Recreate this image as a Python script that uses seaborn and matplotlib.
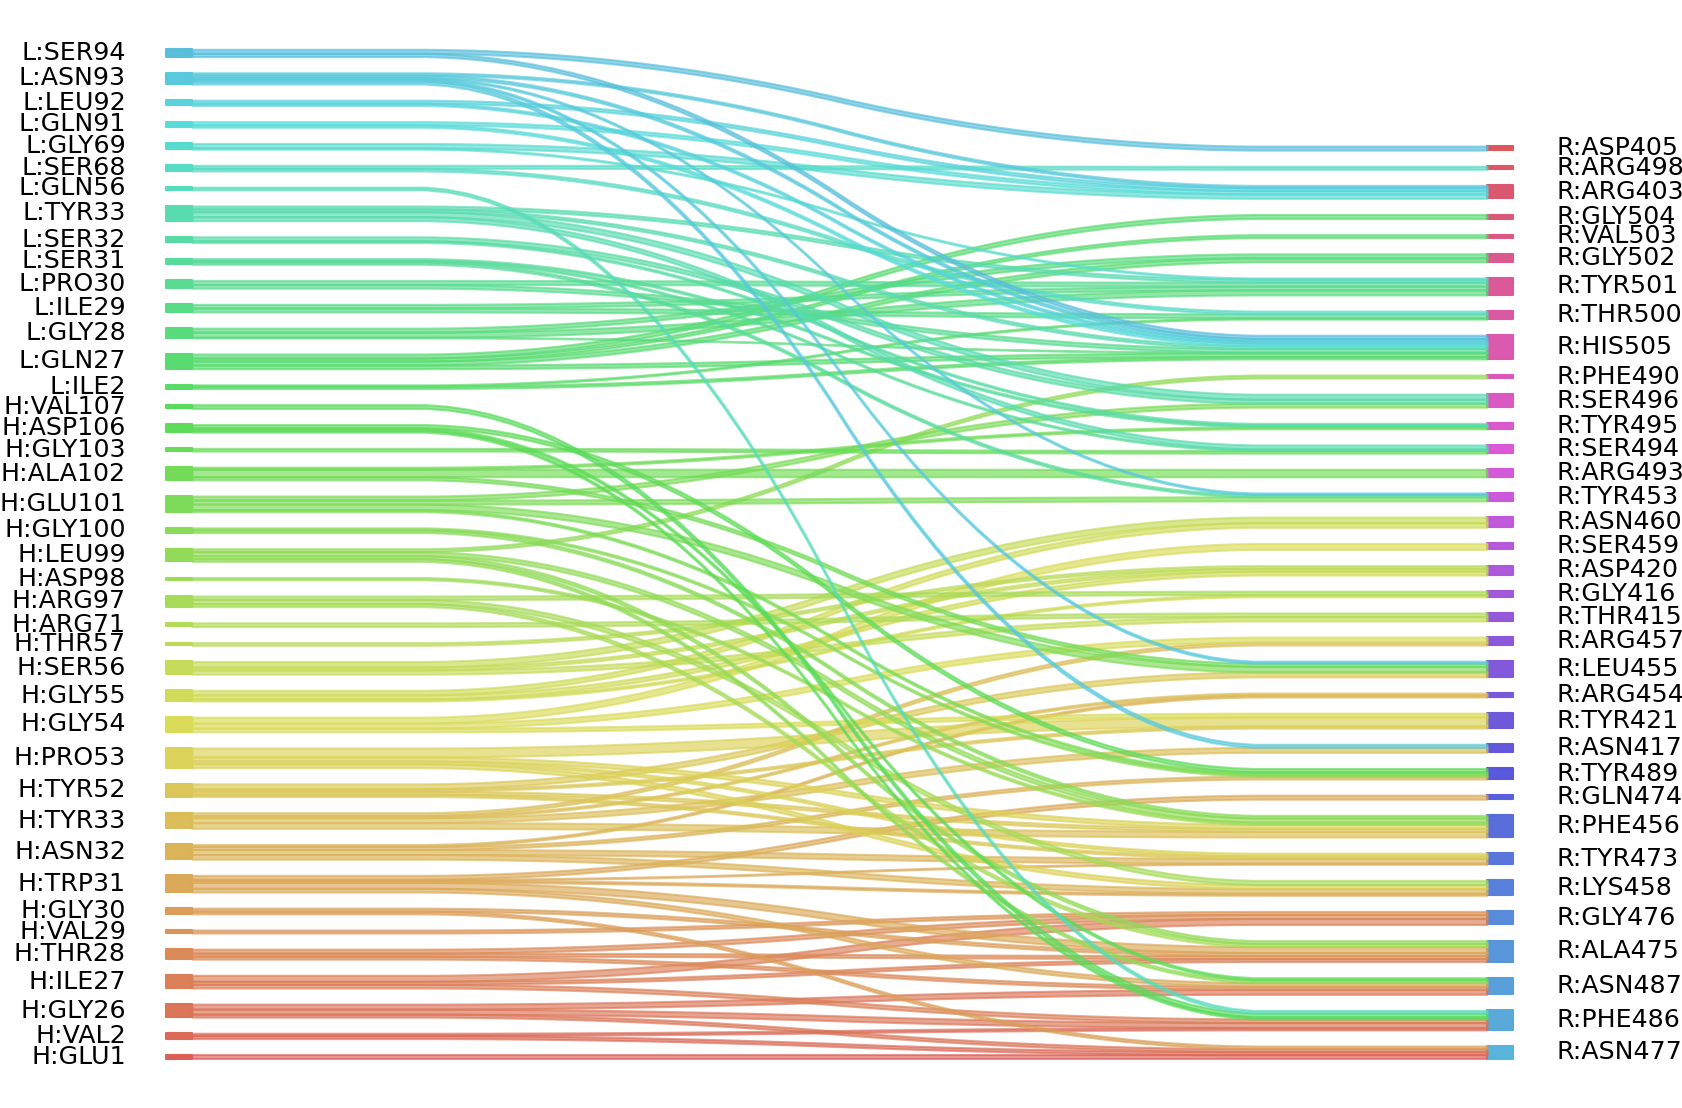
import numpy as np
import pandas as pd
import matplotlib
matplotlib.use("Agg")
import matplotlib.pyplot as plt
import seaborn as sns

# node order, bottom to top (as stacked by the sankey)
left_order = ["H:GLU1", "H:VAL2", "H:GLY26", "H:ILE27", "H:THR28", "H:VAL29", "H:GLY30",
              "H:TRP31", "H:ASN32", "H:TYR33", "H:TYR52", "H:PRO53", "H:GLY54", "H:GLY55",
              "H:SER56", "H:THR57", "H:ARG71", "H:ARG97", "H:ASP98", "H:LEU99", "H:GLY100",
              "H:GLU101", "H:ALA102", "H:GLY103", "H:ASP106", "H:VAL107", "L:ILE2", "L:GLN27",
              "L:GLY28", "L:ILE29", "L:PRO30", "L:SER31", "L:SER32", "L:TYR33", "L:GLN56",
              "L:SER68", "L:GLY69", "L:GLN91", "L:LEU92", "L:ASN93", "L:SER94"]
right_order = ["R:ASN477", "R:PHE486", "R:ASN487", "R:ALA475", "R:GLY476", "R:LYS458",
               "R:TYR473", "R:PHE456", "R:GLN474", "R:TYR489", "R:ASN417", "R:TYR421",
               "R:ARG454", "R:LEU455", "R:ARG457", "R:THR415", "R:GLY416", "R:ASP420",
               "R:SER459", "R:ASN460", "R:TYR453", "R:ARG493", "R:SER494", "R:TYR495",
               "R:SER496", "R:PHE490", "R:HIS505", "R:THR500", "R:TYR501", "R:GLY502",
               "R:VAL503", "R:GLY504", "R:ARG403", "R:ARG498", "R:ASP405"]

# contacts: antibody residue -> RBD residue, with weight
src = ["L:SER94", "L:SER94",
       "L:ASN93", "L:ASN93", "L:ASN93", "L:ASN93", "L:ASN93",
       "L:LEU92", "L:LEU92",
       "L:GLN91", "L:GLN91",
       "L:GLY69", "L:GLY69",
       "L:SER68", "L:SER68",
       "L:GLN56",
       "L:TYR33", "L:TYR33", "L:TYR33", "L:TYR33",
       "L:SER32", "L:SER32",
       "L:SER31", "L:SER31", "L:SER31",
       "L:PRO30", "L:PRO30",
       "L:ILE29", "L:ILE29",
       "L:GLY28", "L:GLY28", "L:GLY28",
       "L:GLN27", "L:GLN27", "L:GLN27", "L:GLN27",
       "L:ILE2", "L:ILE2",
       "H:VAL107",
       "H:ASP106", "H:ASP106", "H:ASP106",
       "H:GLY103",
       "H:ALA102", "H:ALA102", "H:ALA102",
       "H:GLU101", "H:GLU101", "H:GLU101", "H:GLU101",
       "H:GLY100", "H:GLY100",
       "H:LEU99", "H:LEU99", "H:LEU99", "H:LEU99",
       "H:ASP98",
       "H:ARG97", "H:ARG97", "H:ARG97",
       "H:ARG71",
       "H:THR57",
       "H:SER56", "H:SER56", "H:SER56",
       "H:GLY55", "H:GLY55", "H:GLY55",
       "H:GLY54", "H:GLY54", "H:GLY54",
       "H:PRO53", "H:PRO53", "H:PRO53", "H:PRO53",
       "H:TYR52", "H:TYR52", "H:TYR52", "H:TYR52",
       "H:TYR33", "H:TYR33", "H:TYR33", "H:TYR33",
       "H:ASN32", "H:ASN32", "H:ASN32", "H:ASN32",
       "H:TRP31", "H:TRP31", "H:TRP31", "H:TRP31", "H:TRP31",
       "H:GLY30", "H:GLY30",
       "H:VAL29",
       "H:THR28", "H:THR28", "H:THR28",
       "H:ILE27", "H:ILE27", "H:ILE27",
       "H:GLY26", "H:GLY26", "H:GLY26",
       "H:VAL2", "H:VAL2",
       "H:GLU1"]
dst = ["R:ASP405", "R:HIS505",
       "R:ARG403", "R:HIS505", "R:TYR453", "R:LEU455", "R:ASN417",
       "R:ARG403", "R:HIS505",
       "R:ARG403", "R:HIS505",
       "R:ARG403", "R:TYR501",
       "R:ARG498", "R:THR500",
       "R:PHE486",
       "R:TYR501", "R:HIS505", "R:SER496", "R:SER494",
       "R:SER496", "R:TYR495",
       "R:TYR495", "R:SER494", "R:TYR453",
       "R:TYR501", "R:HIS505",
       "R:TYR501", "R:THR500",
       "R:GLY502", "R:TYR501", "R:HIS505",
       "R:GLY504", "R:VAL503", "R:GLY502", "R:HIS505",
       "R:THR500", "R:HIS505",
       "R:PHE486",
       "R:TYR489", "R:ASN487", "R:PHE486",
       "R:SER494",
       "R:ARG493", "R:TYR495", "R:LEU455",
       "R:SER496", "R:TYR453", "R:LEU455", "R:TYR489",
       "R:TYR489", "R:PHE456",
       "R:PHE490", "R:PHE456", "R:ASN487", "R:ALA475",
       "R:PHE456",
       "R:GLY416", "R:LYS458", "R:ALA475",
       "R:THR415",
       "R:ASP420",
       "R:ASN460", "R:ASP420", "R:THR415",
       "R:ASN460", "R:ASP420", "R:GLY416",
       "R:SER459", "R:ARG457", "R:TYR421",
       "R:TYR421", "R:PHE456", "R:LYS458", "R:TYR473",
       "R:TYR421", "R:LEU455", "R:PHE456", "R:TYR473",
       "R:ARG457", "R:ARG454", "R:ASN417", "R:PHE456",
       "R:ARG454", "R:TYR489", "R:TYR473", "R:LYS458",
       "R:GLN474", "R:TYR473", "R:LYS458", "R:ALA475", "R:ASN487",
       "R:ALA475", "R:ASN477",
       "R:GLY476",
       "R:GLY476", "R:ALA475", "R:ASN487",
       "R:GLY476", "R:ALA475", "R:PHE486",
       "R:ASN487", "R:PHE486", "R:ASN477",
       "R:PHE486", "R:ASN477",
       "R:ASN477"]
weight = [4.0, 3.3,
          2.3, 2.5, 1.5, 2.0, 3.0,
          3.0, 2.3,
          3.2, 2.5,
          4.5, 1.2,
          3.0, 2.7,
          2.7,
          3.0, 2.7, 5.0, 4.0,
          4.0, 1.7,
          1.8, 1.5, 2.4,
          4.0, 3.7,
          3.7, 4.0,
          4.0, 5.1, 0.6,
          4.0, 3.0, 4.0, 3.7,
          1.3, 2.4,
          3.7,
          3.5, 2.2, 2.0,
          2.7,
          7.5, 2.0, 3.2,
          4.0, 4.1, 5.5, 2.1,
          2.0, 2.7,
          3.0, 4.0, 2.7, 3.0,
          2.3,
          3.5, 4.2, 3.0,
          3.7,
          2.7,
          5.6, 2.8, 4.3,
          4.6, 4.0, 2.1,
          6.0, 5.0, 3.7,
          9.0, 4.0, 4.0, 2.7,
          2.3, 5.0, 3.0, 2.4,
          3.0, 2.0, 5.0, 5.7,
          2.0, 3.0, 5.0, 4.7,
          4.0, 1.0, 2.0, 6.0, 3.7,
          3.0, 2.7,
          3.0,
          4.0, 3.0, 3.0,
          6.0, 3.0, 3.7,
          5.0, 5.0, 3.0,
          2.3, 3.0,
          4.3]

df = pd.DataFrame({"left": src, "right": dst, "weight": weight})

# colours: hls palette over every label, left ones first
all_labels = left_order + right_order
palette = sns.color_palette("hls", len(all_labels))
colors = dict(zip(all_labels, palette))

total = df["weight"].sum()
gap = 0.0443 * total


def stack(order, col):
    pos = {}
    y = 0.0
    for lab in order:
        h = df.loc[df[col] == lab, "weight"].sum()
        pos[lab] = [y, h]
        y = y + h + gap
    return pos


lpos = stack(left_order, "left")
rpos = stack(right_order, "right")
left_top = lpos[left_order[-1]][0] + lpos[left_order[-1]][1]
right_top = rpos[right_order[-1]][0] + rpos[right_order[-1]][1]
xmax = right_top / 4

fig = plt.figure(figsize=(1682 / 150, 1108 / 150), dpi=150)
ax = fig.add_axes([0, 0, 1, 1])

for lab in left_order:
    b, h = lpos[lab]
    ax.fill_between([-0.02 * xmax, 0], [b, b], [b + h, b + h], color=colors[lab], alpha=0.99)
    ax.text(-0.051 * xmax, b + h / 2, lab, ha="right", va="center", fontsize=12.1)
for lab in right_order:
    b, h = rpos[lab]
    ax.fill_between([xmax, 1.02 * xmax], [b, b], [b + h, b + h], color=colors[lab], alpha=0.99)
    ax.text(1.054 * xmax, b + h / 2, lab, ha="left", va="center", fontsize=12.1)

# strips, smoothed step from the left slot to the right slot
lb = {k: v[0] for k, v in lpos.items()}
rb = {k: v[0] for k, v in rpos.items()}
kern = 0.05 * np.ones(20)
for l in left_order:
    for r in right_order:
        sel = df[(df["left"] == l) & (df["right"] == r)]
        if len(sel) == 0:
            continue
        wt = sel["weight"].sum()
        ys_d = np.array(50 * [lb[l]] + 50 * [rb[r]])
        ys_d = np.convolve(np.convolve(ys_d, kern, mode="valid"), kern, mode="valid")
        ys_u = np.array(50 * [lb[l] + wt] + 50 * [rb[r] + wt])
        ys_u = np.convolve(np.convolve(ys_u, kern, mode="valid"), kern, mode="valid")
        lb[l] += wt
        rb[r] += wt
        ax.fill_between(np.linspace(0, xmax, len(ys_d)), ys_d, ys_u, alpha=0.65, color=colors[l])

# place the diagram in the reference pixel frame
k = (1059 - 49.3) / left_top
ax.set_ylim(-49 / k, 1059 / k)
ax.set_xlim(-192 / 1295 * xmax, (1682 - 192) / 1295 * xmax)
ax.axis("off")
fig.savefig("out.png", dpi=150)
